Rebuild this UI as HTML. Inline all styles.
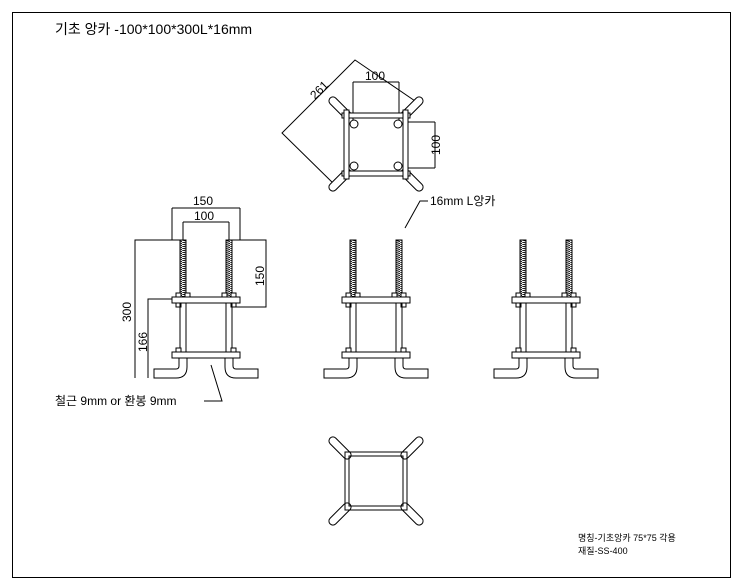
<!DOCTYPE html>
<html><head><meta charset="utf-8"><style>
html,body{margin:0;padding:0;background:#fff}
svg{display:block}
text{font-family:"Liberation Sans","Noto Sans CJK KR",sans-serif;fill:#000}
</style></head><body>
<svg width="740" height="582" viewBox="0 0 740 582" xmlns="http://www.w3.org/2000/svg">
<defs>
<pattern id="thr" width="6" height="2" patternUnits="userSpaceOnUse">
<rect width="6" height="2" fill="#fff"/><line x1="0" y1="0" x2="6" y2="1.5" stroke="#000" stroke-width="1"/>
</pattern>
<g id="elev" stroke="#000" stroke-width="1" fill="#fff">
<rect x="-26" y="240" width="6" height="58" fill="url(#thr)"/>
<rect x="20" y="240" width="6" height="58" fill="url(#thr)"/>
<rect x="-30" y="293" width="5" height="4"/><rect x="-21" y="293" width="5" height="4"/>
<rect x="16" y="293" width="5" height="4"/><rect x="25" y="293" width="5" height="4"/>
<rect x="-34" y="297" width="68" height="6"/>
<rect x="-30" y="303" width="5" height="4"/><rect x="25" y="303" width="5" height="4"/>
<line x1="-26" y1="303" x2="-26" y2="352"/><line x1="-20" y1="303" x2="-20" y2="352"/>
<line x1="20" y1="303" x2="20" y2="352"/><line x1="26" y1="303" x2="26" y2="352"/>
<rect x="-30" y="348" width="5" height="4"/><rect x="25" y="348" width="5" height="4"/>
<rect x="-34" y="352" width="68" height="6"/>
<path d="M-27 358 V366 Q-27 369 -30 369 H-52 V378 H-30 Q-19 378 -19 367 V358 Z"/>
<path d="M27 358 V366 Q27 369 30 369 H52 V378 H30 Q19 378 19 367 V358 Z"/>
</g>
<g id="leg"><rect x="-4" y="-14" width="8" height="28" rx="4" stroke="#000" fill="#fff"/></g>
</defs>
<rect x="12.5" y="12.5" width="718" height="565" fill="none" stroke="#000" stroke-width="1"/>
<text x="55" y="34" font-size="14">기초 앙카 -100*100*300L*16mm</text>

<!-- top view -->
<g stroke="#000" fill="none" stroke-width="1">
<polyline points="337,187 282,133 355,60 418,103"/>
<line x1="353" y1="82" x2="353" y2="120"/><line x1="399" y1="82" x2="399" y2="120"/><line x1="353" y1="82" x2="399" y2="82"/>
<line x1="405" y1="122" x2="435" y2="122"/><line x1="405" y1="168" x2="435" y2="168"/><line x1="435" y1="122" x2="435" y2="168"/>
</g>
<use href="#leg" transform="translate(340,108) rotate(-45)"/>
<use href="#leg" transform="translate(412,108) rotate(45)"/>
<use href="#leg" transform="translate(340,180) rotate(45)"/>
<use href="#leg" transform="translate(412,180) rotate(-45)"/>
<g stroke="#000" fill="#fff" stroke-width="1">
<rect x="342" y="113" width="68" height="5"/><rect x="342" y="171" width="68" height="5"/>
<rect x="344" y="110" width="5" height="69"/><rect x="403" y="110" width="5" height="69"/>
<circle cx="354" cy="124" r="4"/><circle cx="398" cy="124" r="4"/>
<circle cx="354" cy="166" r="4"/><circle cx="398" cy="166" r="4"/>
</g>
<text x="365" y="80" font-size="12">100</text>
<text transform="translate(440,155) rotate(-90)" font-size="12">100</text>
<text transform="translate(315,100) rotate(-45)" font-size="12">261</text>

<!-- elevations -->
<use href="#elev" transform="translate(206,0)"/>
<use href="#elev" transform="translate(376,0)"/>
<use href="#elev" transform="translate(546,0)"/>

<!-- dims left -->
<g stroke="#000" fill="none" stroke-width="1">
<line x1="172" y1="208" x2="240" y2="208"/><line x1="172" y1="208" x2="172" y2="240"/><line x1="240" y1="208" x2="240" y2="240"/>
<line x1="183" y1="222" x2="229" y2="222"/><line x1="183" y1="222" x2="183" y2="240"/><line x1="229" y1="222" x2="229" y2="240"/>
<polyline points="180,240 135,240 135,378"/>
<polyline points="172,299 148,299 148,378"/>
<polyline points="232,240 266,240 266,307 232,307"/>
<polyline points="428,201 420,201 405,228"/>
<polyline points="211,365 222,401 204,401"/>
</g>
<text x="193" y="205" font-size="12">150</text>
<text x="194" y="220" font-size="12">100</text>
<text transform="translate(131,322) rotate(-90)" font-size="12">300</text>
<text transform="translate(147,352) rotate(-90)" font-size="12">166</text>
<text transform="translate(264,286) rotate(-90)" font-size="12">150</text>
<text x="430" y="205" font-size="12">16mm L앙카</text>
<text x="55" y="405" font-size="12">철근 9mm or 환봉 9mm</text>

<!-- bottom view -->
<use href="#leg" transform="translate(340,448) rotate(-45)"/>
<use href="#leg" transform="translate(412,448) rotate(45)"/>
<use href="#leg" transform="translate(340,514) rotate(45)"/>
<use href="#leg" transform="translate(412,514) rotate(-45)"/>
<g stroke="#000" fill="none" stroke-width="1">
<rect x="345" y="452" width="62" height="58"/>
<rect x="349" y="456" width="54" height="50"/>
</g>

<text x="578" y="541" font-size="9">명칭-기초앙카 75*75 각용</text>
<text x="578" y="554" font-size="9">재질-SS-400</text>
</svg>
</body></html>
